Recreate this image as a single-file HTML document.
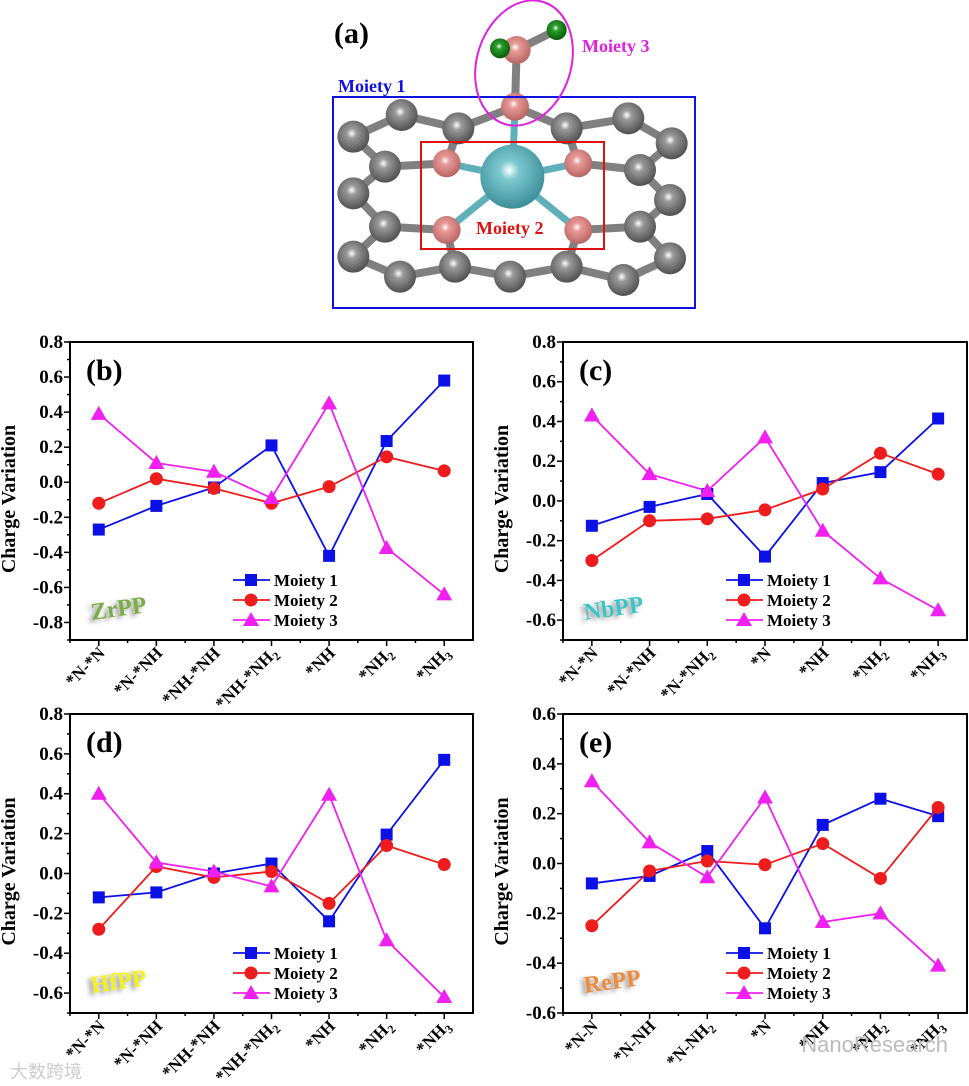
<!DOCTYPE html>
<html><head><meta charset="utf-8"><style>
body{margin:0;background:#fff;}
svg{display:block;font-family:"Liberation Serif",serif;}
</style></head><body>
<svg id="fig" width="969" height="1086" viewBox="0 0 969 1086" xmlns="http://www.w3.org/2000/svg">
<g id="panelA"></g>
<g id="charts"></g>
<text x="948" y="1052" font-family="Liberation Sans,sans-serif" font-size="22" fill="#bbb" text-anchor="end">NanoResearch</text>
<text x="10" y="1078" font-family="Liberation Sans,'Noto Sans CJK SC',sans-serif" font-size="18" fill="#ccc">大数跨境</text>
</svg>
<script>
const NS="http://www.w3.org/2000/svg";
function mk(parent,tag,attrs,text){const e=document.createElementNS(NS,tag);for(const k in attrs)e.setAttribute(k,attrs[k]);if(text!==undefined)e.textContent=text;parent.appendChild(e);return e;}

// ---- chart data ----
const catsB=["*N-*N","*N-*NH","*NH-*NH","*NH-*NH_2","*NH","*NH_2","*NH_3"];
const catsC=["*N-*N","*N-*NH","*N-*NH_2","*N","*NH","*NH_2","*NH_3"];
const catsD=["*N-*N","*N-*NH","*NH-*NH","*NH-*NH_2","*NH","*NH_2","*NH_3"];
const catsE=["*N-N","*N-NH","*N-NH_2","*N","*NH","*NH_2","*NH_3"];
const zrM1=[-0.27,-0.135,-0.03,0.21,-0.42,0.235,0.58];
const zrM2=[-0.12,0.02,-0.035,-0.12,-0.025,0.145,0.065];
const zrM3=[0.39,0.11,0.06,-0.09,0.45,-0.375,-0.64];
const nbM1=[-0.125,-0.03,0.035,-0.28,0.09,0.145,0.415];
const nbM2=[-0.30,-0.10,-0.09,-0.045,0.06,0.24,0.135];
const nbM3=[0.43,0.135,0.05,0.32,-0.15,-0.39,-0.55];
const hfM1=[-0.12,-0.095,0,0.05,-0.24,0.195,0.57];
const hfM2=[-0.28,0.035,-0.02,0.01,-0.15,0.14,0.045];
const hfM3=[0.40,0.055,0.01,-0.065,0.395,-0.335,-0.62];
const reM1=[-0.08,-0.05,0.05,-0.26,0.155,0.26,0.19];
const reM2=[-0.25,-0.03,0.01,-0.005,0.08,-0.06,0.225];
const reM3=[0.33,0.085,-0.055,0.265,-0.235,-0.2,-0.41];
const ticksB=[-0.8,-0.6,-0.4,-0.2,0,0.2,0.4,0.6,0.8];
const ticksC=[-0.6,-0.4,-0.2,0,0.2,0.4,0.6,0.8];
const ticksD=[-0.6,-0.4,-0.2,0,0.2,0.4,0.6,0.8];
const ticksE=[-0.6,-0.4,-0.2,0,0.2,0.4,0.6];
const seriesNames=["Moiety 1","Moiety 2","Moiety 3"];

const panels=[
 {id:"b",name:"zrpp",box:[70,342,473,640],ymin:-0.9,ymax:0.8,ticks:ticksB,cats:catsB,s:[zrM1,zrM2,zrM3],tag:"ZrPP",tagc:"#7aae45"},
 {id:"c",name:"nbpp",box:[563,342,967,640],ymin:-0.7,ymax:0.8,ticks:ticksC,cats:catsC,s:[nbM1,nbM2,nbM3],tag:"NbPP",tagc:"#3cc5c8"},
 {id:"d",name:"hfpp",box:[70,714,473,1013],ymin:-0.7,ymax:0.8,ticks:ticksD,cats:catsD,s:[hfM1,hfM2,hfM3],tag:"HfPP",tagc:"#f2f21a"},
 {id:"e",name:"repp",box:[563,714,967,1013],ymin:-0.6,ymax:0.6,ticks:ticksE,cats:catsE,s:[reM1,reM2,reM3],tag:"RePP",tagc:"#ee8a3a"}
];
const colors=["#0a10e6","#ee1c1c","#f020f0"];

function marker(g,type,x,y,c){
  let m;
  if(type===0) m=mk(g,"rect",{x:x-6,y:y-6,width:12,height:12,fill:c});
  else if(type===1) m=mk(g,"circle",{cx:x,cy:y,r:6.5,fill:c});
  else m=mk(g,"polygon",{points:`${x},${y-8} ${x-8},${y+6} ${x+8},${y+6}`,fill:c});
  return m;
}

const root=document.getElementById("charts");
panels.forEach(p=>{
  const [L,T,R,B]=p.box;
  const g=mk(root,"g",{});
  
  
  const n=p.cats.length, step=(R-L)/n;
  const xs=i=>L+step*(i+0.5);
  const ys=v=>B-(v-p.ymin)/(p.ymax-p.ymin)*(B-T);
  const fr=mk(g,"rect",{x:L,y:T,width:R-L,height:B-T,fill:"none",stroke:"#000","stroke-width":2});
  
  
  for(let v=Math.ceil(p.ymin*10)/10; v<=p.ymax+1e-9; v+=0.1){
    const y=ys(v);
    const isMaj=p.ticks.some(t=>Math.abs(t-v)<1e-6);
    mk(g,"line",{x1:L-(isMaj?6:3),x2:L,y1:y,y2:y,stroke:"#000","stroke-width":1.5});
  }
  p.ticks.forEach(t=>{
    const tl=mk(g,"text",{x:L-7,y:ys(t)+6,"text-anchor":"end","font-size":19,"font-weight":"bold"},t.toFixed(1));
    
    
  });
  const yt=mk(g,"text",{transform:`translate(${L-55},${(T+B)/2+8}) rotate(-90)`,"text-anchor":"middle","font-size":20,"font-weight":"bold"},"Charge Variation");
  
  
  for(let i=0;i<n;i++){
    mk(g,"line",{x1:xs(i),x2:xs(i),y1:B,y2:B+6,stroke:"#000","stroke-width":1.5});
    mk(g,"line",{x1:L+step*i,x2:L+step*i,y1:B,y2:B+3,stroke:"#000","stroke-width":1.5});
    const parts=p.cats[i].split("_");
    const tx=mk(g,"text",{transform:`translate(${xs(i)+7},${B+14}) rotate(-45)`,"text-anchor":"end","font-size":17,"font-weight":"bold"});
    
    
    mk(tx,"tspan",{},parts[0]);
    if(parts[1]) mk(tx,"tspan",{"font-size":12,dy:4},parts[1]);
  }
  p.s.forEach((arr,si)=>{
    const sg=mk(g,"g",{});
    
    
    const pts=arr.map((v,i)=>xs(i)+","+ys(v)).join(" ");
    mk(sg,"polyline",{points:pts,fill:"none",stroke:colors[si],"stroke-width":1.8});
    arr.forEach((v,i)=>{
      const m=marker(sg,si,xs(i),ys(v),colors[si]);
      
      
    });
  });
  const lt=mk(g,"text",{x:L+16,y:T+38,"font-size":30,"font-weight":"bold"},"("+p.id+")");
  
  
  const lx=L+163, ly=B-60;
  seriesNames.forEach((nm,si)=>{
    const le=mk(g,"g",{});
    
    
    const y=ly+si*20;
    mk(le,"line",{x1:lx,x2:lx+37,y1:y,y2:y,stroke:colors[si],"stroke-width":1.8});
    marker(le,si,lx+18,y,colors[si]);
    mk(le,"text",{x:lx+41,y:y+6,"font-size":17,"font-weight":"bold"},nm);
  });
  const tg=mk(g,"text",{x:L+22,y:B-20,"font-size":24,"font-weight":"bold",fill:p.tagc,transform:`rotate(-8 ${L+22} ${B-20})`,style:"text-shadow:-4px 2px 5px #999"},p.tag);
  
  
});

// ---- panel a structure ----
const A=document.getElementById("panelA");
function z(x,y){return [320+x/3,y/3];}
const gray=[[245,345],[415,385],[100,410],[740,385],[925,355],[1055,430],[195,500],[960,510],[100,580],[1050,600],[195,680],[960,680],[100,770],[1050,775],[240,830],[405,800],[570,830],[740,800],[910,840]];
const bonds=[[245,345,415,385],[245,345,100,410],[415,385,585,320],[585,320,740,385],[740,385,925,355],[925,355,1055,430],[100,410,195,500],[1055,430,960,510],[195,500,100,580],[960,510,1050,600],[100,580,195,680],[1050,600,960,680],[195,680,100,770],[960,680,1050,775],[100,770,240,830],[1050,775,910,840],[240,830,405,800],[405,800,570,830],[570,830,740,800],[740,800,910,840],[195,500,380,490],[775,490,960,510],[195,680,380,690],[775,690,960,680],[380,690,405,800],[775,690,740,800],[415,385,380,490],[740,385,775,490],[585,320,590,150],[590,150,540,145],[590,150,710,90]];
bonds.forEach(b=>{const [x1,y1]=z(b[0],b[1]),[x2,y2]=z(b[2],b[3]);mk(A,"line",{x1,y1,x2,y2,stroke:"#808080","stroke-width":8,"stroke-linecap":"round"});});
[[380,490],[775,490],[380,690],[775,690],[585,320]].forEach(q=>{const [x1,y1]=z(q[0],q[1]),[x2,y2]=z(577,530);mk(A,"line",{x1,y1,x2,y2,stroke:"#5fb0bb","stroke-width":7});});
const defs=mk(A,"defs",{});
function grad(id,c1,c2){const r=mk(defs,"radialGradient",{id,cx:"45%",cy:"40%",r:"60%"});mk(r,"stop",{offset:"0%","stop-color":"#fff"});mk(r,"stop",{offset:"25%","stop-color":c1});mk(r,"stop",{offset:"100%","stop-color":c2});}
grad("gG","#9a9a9a","#505050");grad("gP","#e89a98","#b76563");grad("gT","#7cc8d0","#3c8e98");grad("gN","#2aa02a","#0b5a0b");
gray.forEach(q=>{const [x,y]=z(q[0],q[1]);mk(A,"circle",{cx:x,cy:y,r:16,fill:"url(#gG)"});});
[[380,490],[775,490],[380,690],[775,690],[585,320],[590,150]].forEach(q=>{const [x,y]=z(q[0],q[1]);mk(A,"circle",{cx:x,cy:y,r:14,fill:"url(#gP)"});});
{const [x,y]=z(577,530);mk(A,"circle",{cx:x,cy:y,r:32,fill:"url(#gT)"});}
[[540,145],[710,90]].forEach(q=>{const [x,y]=z(q[0],q[1]);mk(A,"circle",{cx:x,cy:y,r:10,fill:"url(#gN)"});});
const bb=mk(A,"rect",{x:333,y:97,width:362,height:211,fill:"none",stroke:"#1010e0","stroke-width":2});

const rb=mk(A,"rect",{x:421,y:142,width:183,height:107,fill:"none",stroke:"#e01010","stroke-width":2});

const el=mk(A,"ellipse",{cx:524,cy:63,rx:47,ry:64,transform:"rotate(18 524 63)",fill:"none",stroke:"#e020e0","stroke-width":2});

const t1=mk(A,"text",{x:338,y:92,"font-size":18,"font-weight":"bold",fill:"#1010e0"},"Moiety 1");

const t2=mk(A,"text",{x:476,y:234,"font-size":18,"font-weight":"bold",fill:"#e01010"},"Moiety 2");

const t3=mk(A,"text",{x:582,y:52,"font-size":18,"font-weight":"bold",fill:"#e020e0"},"Moiety 3");

const ta=mk(A,"text",{x:334,y:43,"font-size":30,"font-weight":"bold"},"(a)");

</script>
</body></html>
